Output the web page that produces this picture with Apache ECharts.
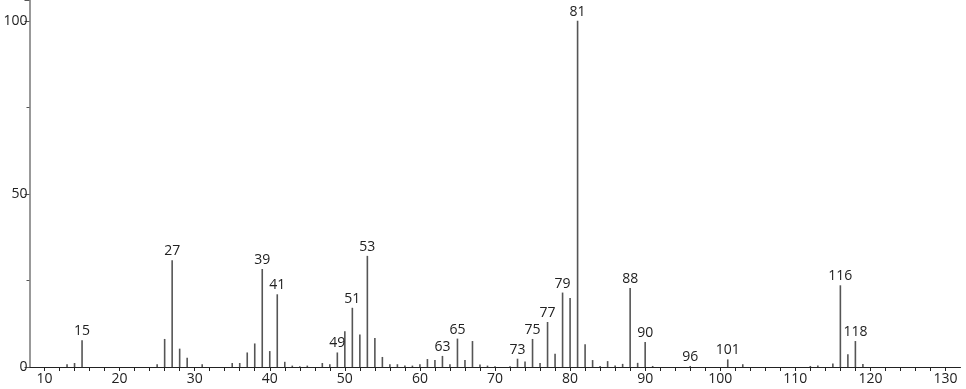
<!DOCTYPE html>
<html>
<head>
<meta charset="utf-8">
<script src="https://cdn.jsdelivr.net/npm/echarts@6/dist/echarts.min.js"></script>
<style>html,body{margin:0;padding:0;background:#fff}#c{width:966px;height:389px}</style>
</head>
<body>
<div id="c"></div>
<script>
const mz = [13,14,15,25,26,27,28,29,31,35,36,37,38,39,40,41,42,43,44,45,47,48,49,50,51,52,53,54,55,56,57,58,59,60,61,62,63,64,65,66,67,68,69,70,72,73,74,75,76,77,78,79,80,81,82,83,84,85,86,87,88,89,90,91,96,101,103,112,113,115,116,117,118,119];
const intensity = [0.8,1.15,7.7,0.8,8.1,30.8,5.3,2.7,0.8,1.15,1.15,4.2,6.8,28.3,4.6,21.0,1.5,0.4,0.2,0.4,1.15,0.8,4.2,10.3,17.1,9.4,32.1,8.4,2.9,0.8,0.8,0.4,0.4,0.8,2.3,2.0,3.2,0.8,8.2,2.0,7.5,0.7,0.4,0.2,0.2,2.4,1.6,8.1,1.15,13.0,3.8,21.5,19.9,100,6.6,2.0,0.3,1.7,0.4,0.9,22.8,1.2,7.2,0.3,0.3,2.2,0.8,0.3,0.4,1.0,23.6,3.7,7.5,0.9];
const labeled = [15,27,39,41,49,51,53,63,65,73,75,77,79,81,88,90,96,101,116,118];
const xTicks = [10,20,30,40,50,60,70,80,90,100,110,120,130];
const yTicks = [0,50,100];

const font = '"Open Sans", "DejaVu Sans", sans-serif';
const data = mz.map((m, i) => ({
  value: [m, intensity[i]],
  label: { show: labeled.includes(m) }
}));

const chart = echarts.init(document.getElementById('c'), null, { renderer: 'canvas' });
chart.setOption({
  animation: false,
  grid: { left: 29.5, right: 5.5, top: 0, bottom: 22, containLabel: false },
  xAxis: {
    type: 'value', min: 8, max: 132, interval: 2,
    axisLine: { show: true, lineStyle: { color: '#222', width: 1 } },
    axisTick: { show: true, length: 4, lineStyle: { color: '#222' } },
    axisLabel: {
      color: '#222', fontSize: 14, fontFamily: font, margin: 5,
      formatter: v => xTicks.includes(v) ? String(v) : '',
      showMinLabel: false, showMaxLabel: false
    },
    splitLine: { show: false }
  },
  yAxis: {
    type: 'value', min: 0, max: 106, interval: 50,
    axisLine: { show: true, lineStyle: { color: '#999', width: 2 } },
    axisTick: { show: true, length: 5, lineStyle: { color: '#555' } },
    minorTick: { show: true, splitNumber: 2, length: 3, lineStyle: { color: '#555' } },
    axisLabel: {
      color: '#222', fontSize: 14, fontFamily: font, margin: 2,
      formatter: v => yTicks.includes(v) ? String(v) : '',
      showMaxLabel: false
    },
    splitLine: { show: false }
  },
  series: [{
    type: 'bar',
    data: data,
    barWidth: 1.6,
    itemStyle: { color: '#555' },
    label: {
      position: 'top', distance: 2, color: '#222', fontSize: 14, fontFamily: font,
      formatter: p => String(p.value[0])
    }
  }]
});
</script>
</body>
</html>
